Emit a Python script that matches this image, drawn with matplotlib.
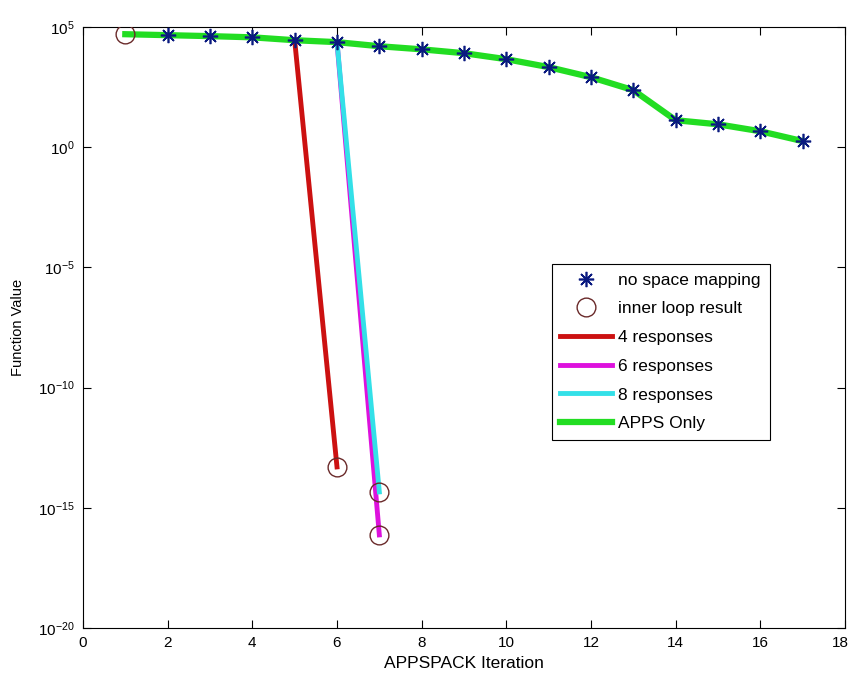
import matplotlib

matplotlib.use("Agg")
import matplotlib.pyplot as plt  # noqa: E402
import matplotlib.transforms as mtransforms  # noqa: E402
from matplotlib.ticker import FixedLocator, NullLocator  # noqa: E402

plt.rcParams["font.family"] = ["Liberation Sans", "DejaVu Sans"]

# APPS only run (log10 of function value), iterations 1..17
iters = list(range(1, 18))
log_apps = [4.71, 4.67, 4.63, 4.58, 4.46, 4.38, 4.21, 4.08, 3.92, 3.67,
            3.34, 2.92, 2.38, 1.13, 0.96, 0.67, 0.26]

# no space mapping markers (iterations 2..17)
star_x = iters[1:]
star_log = log_apps[1:]

# space mapping runs
resp4_x = [5, 6]
resp4_log = [4.46, -13.30]
resp6_x = [6, 7]
resp6_log = [4.38, -16.13]
resp8_x = [6, 7]
resp8_log = [4.38, -14.34]

# inner loop results
inner_x = [1, 6, 7, 7]
inner_log = [4.71, -13.30, -14.34, -16.13]


def tv(logs):
    return [10.0 ** v for v in logs]


fig = plt.figure(figsize=(8.51, 6.81), dpi=100)
ax = fig.add_axes([0.0975, 0.078, 0.8955, 0.882])

ax.plot(iters, tv(log_apps), color="#22dd22", lw=4.5, label="APPS Only", zorder=2)
ax.plot(resp4_x, tv(resp4_log), color="#cc1111", lw=3.5, label="4 responses", zorder=3)
ax.plot(resp6_x, tv(resp6_log), color="#dd11dd", lw=3.5, label="6 responses", zorder=3)
ax.plot(resp8_x, tv(resp8_log), color="#33e0e8", lw=3.5, label="8 responses", zorder=4)
ax.plot(star_x, tv(star_log), ls="none", marker=(8, 2, 0), ms=11, mew=1.2,
        color="#0a1a80", label="no space mapping", zorder=5)
ax.plot(inner_x, tv(inner_log), ls="none", marker="o", ms=13.5, mfc="none", mew=1.0,
        mec="#6a2a2a", label="inner loop result", zorder=6)

ax.set_yscale("log")
ax.set_xlim(0, 18)
ax.set_ylim(1e-20, 1e5)
ax.set_xticks(range(0, 19, 2))
ax.yaxis.set_major_locator(FixedLocator([1e-20, 1e-15, 1e-10, 1e-5, 1e0, 1e5]))
ax.yaxis.set_minor_locator(NullLocator())
ax.tick_params(direction="in", top=True, right=True, labelsize=11, length=6, pad=6)
ax.set_xlabel("APPSPACK Iteration", fontsize=12.5)
ax.set_ylabel("Function Value", fontsize=10.5)
ax.yaxis.set_label_coords(-0.0765, 0.5)

# nudge the last x tick label so it stays inside the canvas
fig.canvas.draw()
last = ax.get_xticklabels()[-1]
last.set_transform(last.get_transform()
                   + mtransforms.ScaledTranslation(-5 / 100, 0, fig.dpi_scale_trans))

handles, labels = ax.get_legend_handles_labels()
order = ["no space mapping", "inner loop result", "4 responses", "6 responses",
         "8 responses", "APPS Only"]
h = [handles[labels.index(k)] for k in order]
leg = ax.legend(h, order, loc="lower left", bbox_to_anchor=(0.615, 0.313),
                borderaxespad=0, fontsize=12.5, fancybox=False, edgecolor="black",
                framealpha=1, handlelength=3.0, handletextpad=0.35,
                borderpad=0.5, labelspacing=0.78)
leg.get_frame().set_linewidth(0.8)

fig.savefig("out.png", dpi=100)
